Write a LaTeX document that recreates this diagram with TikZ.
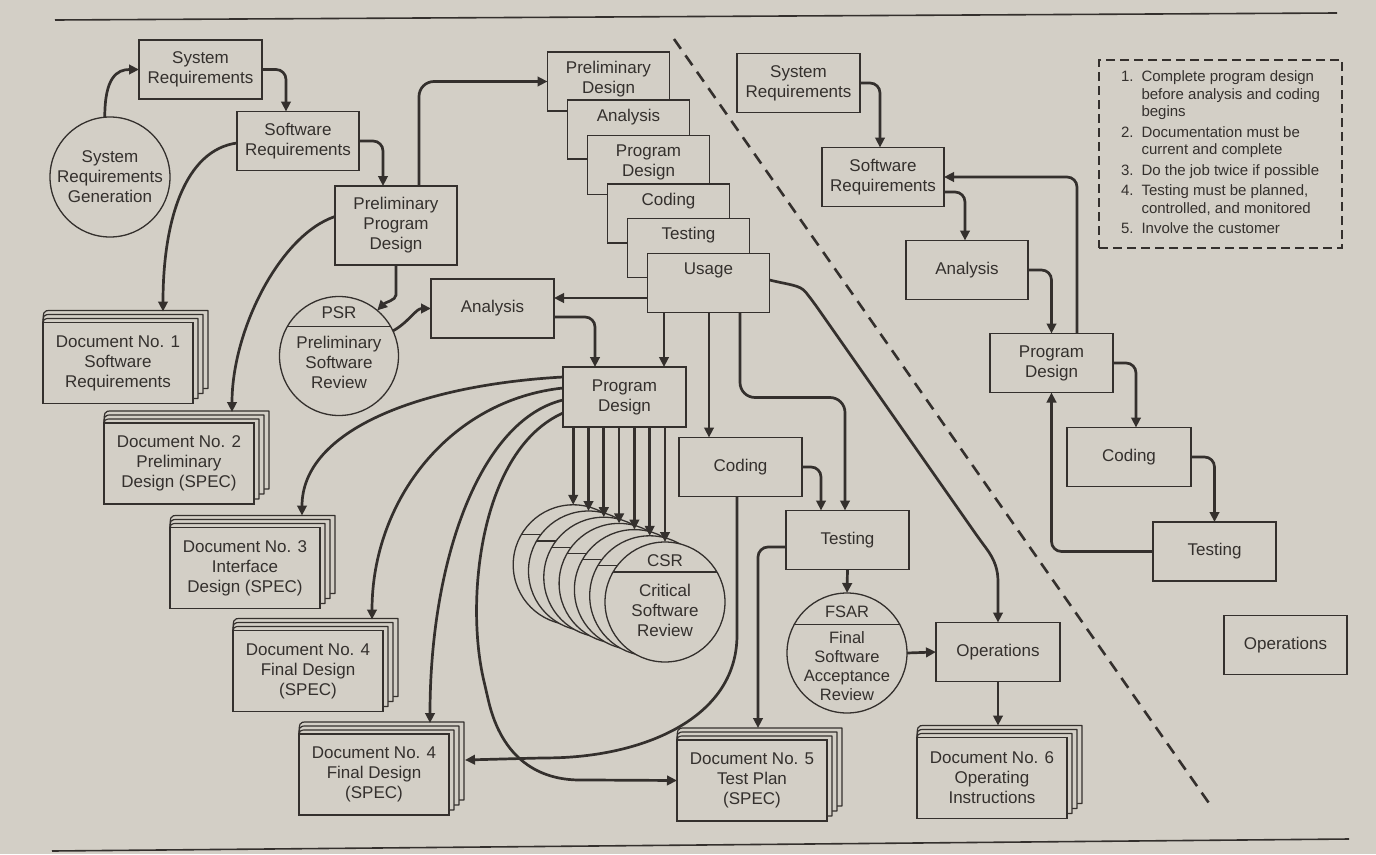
\documentclass[tikz,border=0pt]{standalone}
\usepackage{fontspec}
\setmainfont{Liberation Sans}
\usetikzlibrary{arrows.meta,calc}
\pgfdeclarelayer{paper}
\pgfdeclarelayer{pages}
\pgfsetlayers{paper,pages,main}
\definecolor{bg}{RGB}{211,207,198}
\definecolor{ink}{RGB}{52,48,45}
\newcommand\mainfs{\fontsize{17}{20}\selectfont}
\tikzset{
 box/.style={draw=ink, line width=1.4pt, fill=bg, text=ink, font=\mainfs, align=center, minimum width=122pt, minimum height=59pt, inner sep=2pt, outer sep=0pt},
 topbox/.style={box, inner ysep=0pt, text height=21pt, text depth=38pt},
 topboxtwo/.style={box, inner ysep=0pt, text height=41pt, text depth=18pt},
 doc/.style={box, minimum width=150pt, minimum height=81pt},
 pagel/.style={draw=ink, line width=1.2pt, fill=bg, line join=round},
 circ/.style={circle, draw=ink, line width=1.3pt, fill=bg, minimum size=119pt, inner sep=0pt, outer sep=0pt, text=ink, font=\mainfs, align=center},
 ctext/.style={text=ink, font=\mainfs, align=center, inner sep=0pt},
 chord/.style={draw=ink, line width=1.2pt},
 conn/.style={draw=ink, line width=2.7pt, rounded corners=10pt, -{Triangle[length=10pt,width=9.5pt]}},
 dbox/.style={draw=ink, line width=2pt, dash pattern=on 9pt off 5pt, minimum width=243pt, minimum height=188pt, inner sep=0pt, text=ink, font=\fontsize{15}{17.5}\selectfont},
 rule/.style={draw=ink, line width=1.6pt},
 divider/.style={draw=ink, line width=2.6pt, dash pattern=on 12pt off 8pt},
}
\newcommand\docstack[3]{%
 \node[doc] (#1) at (#2) {#3};
 \begin{pgfonlayer}{pages}
 \foreach \a/\b in {12pt/15pt,8pt/10pt,4pt/5pt}{
  \draw[pagel] ([yshift=-6pt]#1.north west) .. controls ([yshift=\a]#1.north west) .. ([xshift=8pt,yshift=\a]#1.north west) -- ([xshift=\b,yshift=\a]#1.north east) -- ([xshift=\b,yshift=\b]#1.south east) -- ([yshift=\b]#1.south east) -- cycle;
 }
 \end{pgfonlayer}}
\begin{document}
\begin{tikzpicture}[x=1pt,y=-1pt]
\useasboundingbox (0,0) rectangle (1376,854);
\begin{pgfonlayer}{paper}
\fill[bg] (0,0) rectangle (1376,854);
\end{pgfonlayer}

% rules and divider
\draw[rule] (55,20) -- (1337,13);
\draw[rule] (52,851) -- (1349,839);
\draw[divider] (674,39) -- (1211,806);

% ---------- left part ----------
\node[box, minimum width=123pt] (sr1) at (200.5,69.5) {System\\Requirements};
\node[box] (sw1) at (298,141) {Software\\Requirements};
\node[box, minimum height=79pt] (ppd) at (396,225.5) {Preliminary\\Program\\Design};
\node[circ, minimum size=120pt] (srg) at (110,177) {System\\Requirements\\Generation};

\node[circ] (psr) at (339,356) {};
\draw[chord] (psr.150) -- (psr.30);
\node[ctext] at ([yshift=8pt]psr.center) {PSR\\[10pt]Preliminary\\Software\\Review};

\node[box, minimum width=123pt] (an2) at (492.5,308.5) {Analysis};

% waterfall stack
\node[topboxtwo] (pd1) at (608.5,81.5) {Preliminary\\Design};
\node[topbox] (an1) at (628.5,129.5) {Analysis};
\node[topboxtwo] (pg1) at (648.5,165) {Program\\Design};
\node[topbox] (cd1) at (668.5,213.5) {Coding};
\node[topbox] (ts1) at (688.5,248) {Testing};
\node[topbox] (us) at (708.5,283) {Usage};

\node[box, minimum width=123pt, minimum height=60pt] (pdm) at (624.5,397) {Program\\Design};
\node[box, minimum width=123pt] (cd2) at (740.5,467) {Coding};
\node[box, minimum width=123pt] (ts2) at (847.5,540) {Testing};
\node[circ, minimum size=120pt] (fsar) at (847,653) {};
\draw[chord] (fsar.152) -- (fsar.28);
\node[ctext, font=\fontsize{16.5}{19}\selectfont] at (fsar.center) {FSAR\\[7pt]Final\\Software\\Acceptance\\Review};
\node[box, minimum width=124pt] (ops) at (998,652) {Operations};

% CSR stack
\foreach \k in {6,5,4,3,2,1,0}{
  \node[circ, minimum size=120pt] (c\k) at ({665-15.3*\k},{602-6.2*\k}) {};
  \draw[chord] (c\k.150) -- (c\k.30);
}
\node[ctext] at ([yshift=6.5pt]c0.center) {CSR\\[10pt]Critical\\Software\\Review};

% documents
\docstack{d1}{118,363}{Document No. 1\\Software\\Requirements}
\docstack{d2}{179,463.5}{Document No. 2\\Preliminary\\Design (SPEC)}
\docstack{d3}{245,568}{Document No. 3\\Interface\\Design (SPEC)}
\docstack{d4}{308,671}{Document No. 4\\Final Design\\(SPEC)}
\docstack{d4b}{374,774.5}{Document No. 4\\Final Design\\(SPEC)}
\docstack{d5}{752,780.5}{Document No. 5\\Test Plan\\(SPEC)}
\docstack{d6}{992,778}{Document No. 6\\Operating\\Instructions}

% ---------- right part ----------
\node[box, minimum width=123pt] (sr2) at (798.5,83) {System\\Requirements};
\node[box] (sw2) at (883,177) {Software\\Requirements};
\node[box] (an3) at (967,270) {Analysis};
\node[box, minimum width=123pt] (pg3) at (1051.5,363) {Program\\Design};
\node[box, minimum width=124pt] (cd3) at (1129,457) {Coding};
\node[box, minimum width=123pt] (ts3) at (1214.5,551.5) {Testing};
\node[box, minimum width=123pt] (op3) at (1285.5,645) {Operations};

\node[dbox] (notes) at (1220.5,154) {\begin{tabular}{@{}l@{\hspace{8pt}}l@{}}
1. & Complete program design\\
   & before analysis and coding\\
   & begins\\[3pt]
2. & Documentation must be\\
   & current and complete\\[3pt]
3. & Do the job twice if possible\\[3pt]
4. & Testing must be planned,\\
   & controlled, and monitored\\[3pt]
5. & Involve the customer
\end{tabular}};

% ---------- connectors: left ----------
\draw[conn] (srg.95) .. controls +(0,-40) and +(-22,0) .. (sr1.west);
\draw[conn] (sr1.east) -| ([xshift=-12pt]sw1.north);
\draw[conn] (sw1.east) -| ([xshift=-13pt]ppd.north);
\draw[conn, rounded corners=15pt] ([xshift=23pt]ppd.north) |- (pd1.west);
\draw[conn] ([yshift=-2pt]sw1.west) .. controls (185,150) and (163,220) .. ([xshift=45pt,yshift=11pt]d1.north);
\draw[conn] ([yshift=9pt]ppd.west) .. controls (280,235) and (232,330) .. ([xshift=53pt,yshift=11pt]d2.north);
\draw[conn] (ppd.south) -- ++(0,20) .. controls +(0,15) and +(8,-8) .. (psr.50);
\draw[conn] (psr.25) .. controls +(15,-8) and +(-15,0) .. (an2.west);
\draw[conn] ([yshift=-15pt]us.west) -- ([yshift=10.5pt]an2.east);
\draw[conn] ([yshift=-8.5pt]an2.east) -| ([xshift=-29.5pt]pdm.north);
\draw[conn] ([xshift=-44.5pt]us.south) -- ([xshift=-44.5pt]us.south |- pdm.north);
\draw[conn] ([xshift=0.5pt]us.south) -- ([xshift=0.5pt]us.south |- cd2.north);
\draw[conn, rounded corners=15pt] ([xshift=31.5pt]us.south) |- ([xshift=-2.5pt,yshift=113pt]ts2.north) -- ([xshift=-2.5pt]ts2.north);
\draw[conn] ([yshift=3pt]us.east) .. controls (790,285) and (800,285) .. (812,300) -- (980,540) .. controls (995,560) and (998,570) .. (998,592) -- (ops.north);
\draw[conn] (cd2.east) -| ([xshift=-26.5pt]ts2.north);
\draw[conn] (ts2.south) -- (fsar.north);
\draw[conn] (fsar.east) -- (ops.west);
\draw[conn] (ops.south) -- ([yshift=12pt]ops.south |- d6.north);
\draw[conn] ([yshift=-7pt]ts2.west) -| ([xshift=6pt,yshift=12pt]d5.north);
\draw[conn] ([xshift=-3.5pt]cd2.south) -- (737,625) .. controls (737,720) and (640,757) .. (540,758) -- ([xshift=16pt,yshift=14.5pt]d4b.east);

\draw[conn] ([yshift=20pt]pdm.west) .. controls (420,385) and (302,430) .. ([xshift=57pt,yshift=12pt]d3.north);
\draw[conn] ([yshift=9pt]pdm.west) .. controls (450,400) and (372,500) .. ([xshift=64pt,yshift=11pt]d4.north);
\draw[conn] ([yshift=-3pt]pdm.west) .. controls (480,420) and (430,560) .. ([xshift=56pt,yshift=11pt]d4b.north);
\draw[conn] ([yshift=-16pt]pdm.west) .. controls (480,450) and (465,600) .. (486,690) .. controls (502,760) and (540,780) .. (590,780) -- (d5.west);
\foreach \k in {0,...,6}{
  \draw[conn] (c\k.north |- pdm.south) -- (c\k.north);
}

% ---------- connectors: right ----------
\draw[conn] (sr2.east) -| ([xshift=-3pt]sw2.north);
\draw[conn] ([xshift=25.5pt]pg3.north) |- (sw2.east);
\draw[conn] ([yshift=-15pt]sw2.east) -| ([xshift=-2pt]an3.north);
\draw[conn] (an3.east) -| (pg3.north);
\draw[conn] (pg3.east) -| ([xshift=7pt]cd3.north);
\draw[conn] (cd3.east) -| (ts3.north);
\draw[conn] (ts3.west) -| (pg3.south);
\end{tikzpicture}
\end{document}
